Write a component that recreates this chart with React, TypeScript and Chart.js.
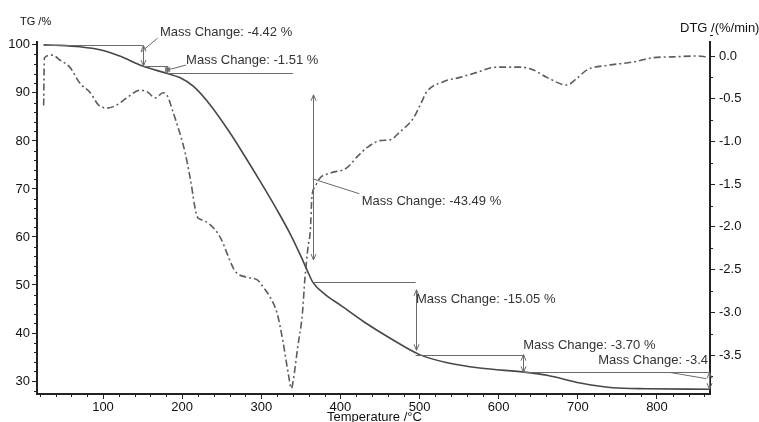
import { useEffect, useRef } from "react";
import { Chart, registerables } from "chart.js";

Chart.register(...registerables);

// Temperature (°C) and TG (%) — solid curve
const tgTemp = [25, 45, 71, 96, 121, 150, 180, 197, 214, 235, 260, 280, 300, 320, 336, 350, 360, 365, 380, 400, 430, 465, 500, 535, 576, 635, 661, 703, 744, 787, 866];
const tgValues = [100, 99.9, 99.6, 99.0, 97.7, 95.6, 94.1, 93.2, 91.4, 87.6, 81.8, 76.6, 71.2, 65.6, 60.8, 56.0, 52.3, 50.6, 48.1, 45.8, 42.3, 38.7, 35.5, 33.8, 32.7, 31.8, 31.2, 29.6, 28.6, 28.4, 28.3];

// Temperature (°C) and DTG (%/min) — dash-dot curve
const dtgTemp = [25, 26, 36, 46, 58, 71, 84, 94, 105, 118, 130, 147, 156, 166, 176, 181, 189, 197, 204, 210, 219, 223, 235, 248, 264, 269, 282, 295, 302, 311, 320, 327, 334, 338, 341, 346, 352, 355, 359, 362, 364, 368, 374, 387, 408, 421, 434, 450, 463, 475, 492, 501, 509, 530, 551, 573, 589, 602, 627, 643, 661, 686, 699, 712, 737, 770, 795, 820, 851, 863];
const dtgValues = [-0.58, -0.02, 0.01, -0.05, -0.13, -0.32, -0.43, -0.57, -0.61, -0.57, -0.49, -0.40, -0.42, -0.49, -0.43, -0.46, -0.67, -0.90, -1.14, -1.42, -1.88, -1.91, -1.97, -2.12, -2.47, -2.54, -2.59, -2.62, -2.70, -2.82, -3.01, -3.32, -3.71, -3.89, -3.76, -3.41, -3.01, -2.62, -2.24, -2.04, -1.65, -1.53, -1.43, -1.37, -1.31, -1.18, -1.07, -0.99, -0.98, -0.89, -0.73, -0.57, -0.42, -0.30, -0.25, -0.19, -0.14, -0.13, -0.13, -0.16, -0.25, -0.34, -0.26, -0.16, -0.11, -0.07, -0.02, -0.01, 0.0, -0.01];

const xTicks = [100, 200, 300, 400, 500, 600, 700, 800];
const tgTicks = [30, 40, 50, 60, 70, 80, 90, 100];
const dtgTicks = [0, -0.5, -1, -1.5, -2, -2.5, -3, -3.5];

const massChangeLabels = [
  "Mass Change: -4.42 %",
  "Mass Change: -1.51 %",
  "Mass Change: -43.49 %",
  "Mass Change: -15.05 %",
  "Mass Change: -3.70 %",
  "Mass Change: -3.4",
];
// temperatures where each step marker sits, and TG levels between steps
const stepTemps = [150, 181, 365, 495, 631, 866];
const stepLevels = [99.9, 95.6, 94.1, 50.6, 35.5, 31.8, 28.3];

const FONT = "'Liberation Sans', Arial, Helvetica, sans-serif";

export default function App() {
  const ref = useRef<HTMLCanvasElement>(null);

  useEffect(() => {
    const canvas = ref.current!;

    const annotations = {
      id: "tgaAnnotations",
      afterDraw(chart: any) {
        const ctx = chart.ctx as CanvasRenderingContext2D;
        const sx = chart.scales.x;
        const sy = chart.scales.y;
        const sy1 = chart.scales.y1;
        const ca = chart.chartArea;
        const px = (t: number) => sx.getPixelForValue(t);
        const py = (v: number) => sy.getPixelForValue(v);

        ctx.save();
        // minor ticks
        ctx.strokeStyle = "#222";
        ctx.lineWidth = 1;
        ctx.beginPath();
        for (let t = 20; t <= 860; t += 20) {
          if (t % 100 === 0) continue;
          const x = Math.round(px(t)) + 0.5;
          ctx.moveTo(x, ca.bottom);
          ctx.lineTo(x, ca.bottom + 3);
        }
        for (let v = 28; v <= 100; v += 2) {
          if (v % 10 === 0) continue;
          const y = Math.round(py(v)) + 0.5;
          ctx.moveTo(ca.left, y);
          ctx.lineTo(ca.left - 3, y);
        }
        for (let v = 0.25; v >= -3.75; v -= 0.5) {
          const y = Math.round(sy1.getPixelForValue(v)) + 0.5;
          ctx.moveTo(ca.right, y);
          ctx.lineTo(ca.right + 3, y);
        }
        ctx.stroke();

        // annotation lines
        ctx.strokeStyle = "#6a6a6a";
        ctx.lineWidth = 1;
        const line = (x1: number, y1: number, x2: number, y2: number) => {
          ctx.beginPath();
          ctx.moveTo(x1, y1);
          ctx.lineTo(x2, y2);
          ctx.stroke();
        };
        const head = (x: number, y: number, dir: number) => {
          ctx.beginPath();
          ctx.moveTo(x - 2.5, y - dir * 6);
          ctx.lineTo(x, y);
          ctx.lineTo(x + 2.5, y - dir * 6);
          ctx.stroke();
        };
        const vArrow = (t: number, top: number, bottom: number) => {
          const x = Math.round(px(t)) + 0.5;
          const y1 = py(top);
          const y2 = py(bottom);
          line(x, y1, x, y2);
          head(x, y1, -1);
          head(x, y2, 1);
        };
        const hLine = (t1: number, t2: number, v: number) => {
          const y = Math.round(py(v)) + 0.5;
          line(px(t1), y, px(t2), y);
        };

        // step 1
        hLine(25, stepTemps[0], stepLevels[0]);
        vArrow(stepTemps[0], stepLevels[0], stepLevels[1]);
        line(px(148), py(98.5), px(169), py(101.4));
        // step 2
        hLine(stepTemps[0], stepTemps[1], stepLevels[1]);
        vArrow(stepTemps[1], stepLevels[1], stepLevels[2]);
        hLine(stepTemps[1], 340, stepLevels[2]);
        line(px(182), py(94.8), px(205), py(95.8));
        // step 3
        vArrow(stepTemps[2], 89.6, 55.2);
        line(px(365), py(72.1), px(424), py(69.0));
        hLine(stepTemps[2], stepTemps[3], stepLevels[3]);
        // step 4
        vArrow(stepTemps[3], 49.0, 36.4);
        hLine(stepTemps[3], stepTemps[4], stepLevels[4]);
        // step 5
        vArrow(stepTemps[4], stepLevels[4], stepLevels[5]);
        hLine(stepTemps[4], stepTemps[5], stepLevels[5]);
        // step 6
        vArrow(stepTemps[5], stepLevels[5], stepLevels[6]);
        line(px(816), py(31.8), px(862), py(30.5));

        // labels
        ctx.fillStyle = "#333";
        ctx.font = `13px ${FONT}`;
        ctx.textBaseline = "middle";
        ctx.textAlign = "left";
        ctx.fillText(massChangeLabels[0], px(172), py(102.5));
        ctx.fillText(massChangeLabels[1], px(205), py(96.7));
        ctx.fillText(massChangeLabels[2], px(427), py(67.4));
        ctx.fillText(massChangeLabels[3], px(495.5), py(46.9));
        ctx.fillText(massChangeLabels[4], px(631), py(37.5));
        ctx.textAlign = "right";
        ctx.fillText(massChangeLabels[5], ca.right - 2, py(34.2));

        // axis titles
        ctx.fillStyle = "#111";
        ctx.textAlign = "left";
        ctx.textBaseline = "alphabetic";
        ctx.font = `11px ${FONT}`;
        ctx.fillText("TG /%", 20, 25);
        ctx.font = `13px ${FONT}`;
        ctx.fillText("DTG /(%/min)", 680, 32);
        ctx.font = `13px ${FONT}`;
        ctx.textAlign = "center";
        ctx.fillText("Temperature /°C", px(443), 421);
        ctx.restore();
      },
    };

    const tickFont = { family: FONT, size: 13 };
    const chart = new Chart(canvas, {
      type: "scatter",
      data: {
        datasets: [
          {
            label: "TG",
            data: tgTemp.map((t, i) => ({ x: t, y: tgValues[i] })),
            yAxisID: "y",
            showLine: true,
            borderColor: "#474747",
            borderWidth: 1.6,
            pointRadius: 0,
            cubicInterpolationMode: "monotone",
            fill: false,
          },
          {
            label: "DTG",
            data: dtgTemp.map((t, i) => ({ x: t, y: dtgValues[i] })),
            yAxisID: "y1",
            showLine: true,
            borderColor: "#5c5c5c",
            borderWidth: 1.6,
            borderDash: [7, 3, 2, 3],
            pointRadius: 0,
            cubicInterpolationMode: "monotone",
            fill: false,
          },
        ],
      },
      options: {
        responsive: false,
        animation: false,
        devicePixelRatio: 1,
        layout: { padding: { top: 42, left: 0, right: 0, bottom: 0 } },
        plugins: { legend: { display: false }, tooltip: { enabled: false } },
        scales: {
          x: {
            type: "linear",
            min: 16.6,
            max: 867,
            afterBuildTicks: (s: any) => {
              s.ticks = xTicks.map((v) => ({ value: v }));
            },
            afterFit: (s: any) => {
              s.height = 28;
            },
            grid: { drawOnChartArea: false, drawTicks: true, tickLength: 5, color: "#222" },
            border: { display: true, color: "#222", width: 2 },
            ticks: { font: tickFont, color: "#111", padding: 1, maxRotation: 0, autoSkip: false },
          },
          y: {
            type: "linear",
            position: "left",
            min: 27.3,
            max: 100.6,
            afterBuildTicks: (s: any) => {
              s.ticks = tgTicks.map((v) => ({ value: v }));
            },
            afterFit: (s: any) => {
              s.width = 37;
            },
            grid: { drawOnChartArea: false, drawTicks: true, tickLength: 5, color: "#222" },
            border: { display: true, color: "#222", width: 2 },
            ticks: { font: tickFont, color: "#111", padding: 2, autoSkip: false },
          },
          y1: {
            type: "linear",
            position: "right",
            min: -3.956,
            max: 0.164,
            afterBuildTicks: (s: any) => {
              s.ticks = dtgTicks.map((v) => ({ value: v }));
            },
            afterFit: (s: any) => {
              s.width = 49;
            },
            grid: { drawOnChartArea: false, drawTicks: true, tickLength: 5, color: "#222" },
            border: { display: true, color: "#222", width: 2 },
            ticks: {
              font: tickFont,
              color: "#111",
              padding: 4,
              autoSkip: false,
              callback: (v: any) => Number(v).toFixed(1),
            },
          },
        },
      },
      plugins: [annotations],
    } as any);

    return () => chart.destroy();
  }, []);

  return (
    <div style={{ position: "absolute", left: 0, top: 0, width: 759, height: 422, background: "#fff" }}>
      <canvas ref={ref} width={759} height={422} style={{ display: "block", width: 759, height: 422 }} />
    </div>
  );
}
